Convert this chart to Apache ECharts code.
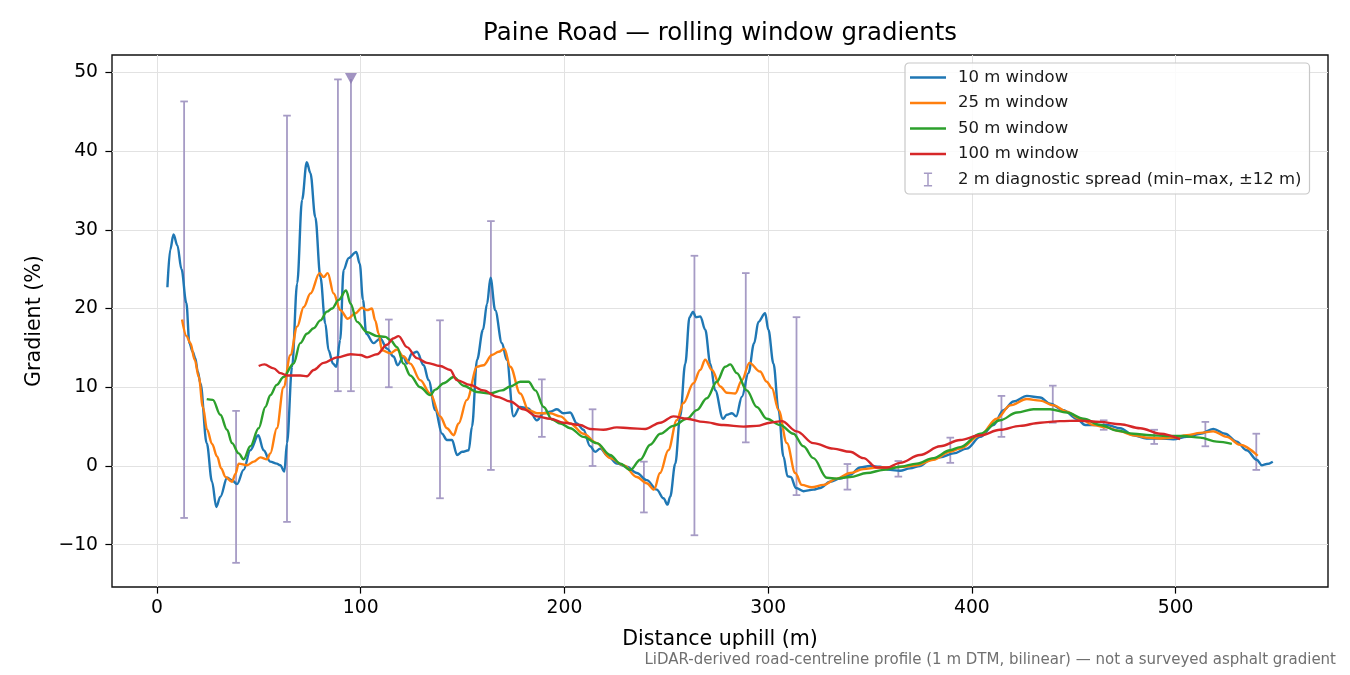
<!DOCTYPE html>
<html><head><meta charset="utf-8">
<script src="https://cdn.jsdelivr.net/npm/echarts@6/dist/echarts.min.js"></script>
<style>html,body{margin:0;padding:0;background:#fff}#c{width:1350px;height:675px}</style>
</head><body><div id="c"></div>
<script>
const xTicks = [0, 100, 200, 300, 400, 500];
const yTicks = [-10, 0, 10, 20, 30, 40, 50];
const seriesNames = ['10 m window', '25 m window', '50 m window', '100 m window'];
const spreadName = '2 m diagnostic spread (min–max, ±12 m)';

const win10 = [[5.1,22.7],[6.5,27.5],[8.1,29.4],[10,28],[12,25],[14.4,20.7],[15.9,15.6],[17.5,14.5],[18.8,13.7],[20,12],[21.3,10.5],[24.4,2.9],[27,-2],[29.1,-5.2],[31.1,-3.9],[34.4,-1.5],[36.8,-1.8],[39.3,-2.3],[42.5,-0.5],[45.8,2.0],[49.7,3.9],[52.3,2.0],[55.6,0.55],[58.8,0.3],[60.5,0.1],[62.5,-0.7],[63.8,2.9],[66.3,12.6],[68.8,23.2],[71.2,33.8],[73.5,38.6],[75.3,37.2],[77.7,31.6],[80.2,24.0],[82.6,18.1],[84.2,14.7],[86.4,13.0],[88.0,12.6],[89.9,16.0],[91.6,24.9],[94.0,26.4],[97.8,27.2],[99.5,25.7],[101.1,21.1],[102.7,16.8],[106.3,15.6],[109.6,16.2],[112.9,14.9],[116.1,13.9],[118.1,12.8],[121.0,13.9],[122.7,13.0],[125.1,14.3],[127.6,14.5],[130.9,12.8],[133.3,10.9],[136.6,7.1],[139.9,4.1],[142.3,3.3],[144.8,3.3],[147.3,1.4],[149.8,1.8],[153.0,2.0],[154.6,5.0],[157.1,13.5],[160.0,17.3],[162.0,20.6],[163.7,23.9],[166.0,19.8],[169.3,15.6],[171.7,13.5],[175.0,6.3],[178.2,7.5],[182.3,7.3],[186.5,5.8],[189.7,6.7],[193,6.9],[196.3,7.2],[199.5,6.7],[202.8,6.8],[206.1,5.4],[209.3,4.6],[212.6,2.5],[215.1,1.8],[217.5,2.2],[221.6,1.2],[225.7,0.3],[230.6,-0.1],[235.5,-0.9],[240.4,-1.8],[245.3,-3.0],[248.6,-4.1],[250.6,-4.9],[251.9,-3.9],[254.4,0.3],[256.8,6.3],[259.3,13.0],[261.4,18.9],[263.1,19.6],[264.5,18.9],[266.7,19.0],[269.1,17.3],[271.6,13.0],[274.0,9.6],[277.8,6.0],[279.7,6.5],[282.2,6.7],[284.3,6.3],[287.1,8.8],[290.3,11.8],[293.1,15.6],[295.2,18.3],[298.5,19.4],[300.1,17.3],[302.6,13.0],[305.1,7.1],[307.5,1.2],[309.5,-1.3],[311.1,-1.4],[313.7,-2.8],[317.3,-3.2],[322.2,-3.0],[325.5,-2.8],[330.4,-2.0],[335.3,-1.6],[340.2,-1.1],[345.1,-0.2],[350.0,0.0],[354.9,-0.1],[359.8,-0.5],[364.7,-0.6],[369.6,-0.3],[374.5,0.0],[379.5,0.8],[384.4,1.1],[391,1.6],[397.5,2.2],[404.1,3.7],[410.6,5.2],[415.5,7.1],[420.4,8.2],[427,8.9],[433.5,8.7],[438.4,7.9],[444.9,7.1],[451.5,6.0],[455.6,5.2],[459.7,5.2],[466.2,5.2],[472.8,4.8],[479.3,3.9],[485.8,3.5],[492.4,3.5],[498.9,3.4],[505.5,3.7],[512.0,4.1],[518.5,4.7],[524.3,4.1],[530,3.1],[534.9,2.0],[539.8,0.8],[542.3,0.1],[544.7,0.25],[547.7,0.55]];

const win25 = [[12.3,18.6],[14.5,16.5],[16.4,15.6],[18.5,13.5],[20.5,11.3],[22.5,7.5],[24.6,4.6],[27,2.8],[29.5,1.2],[31.5,-0.3],[33.6,-1.4],[36.8,-2.0],[38.5,-1.0],[40.1,0.3],[44.2,0.1],[47.5,0.55],[50.7,1.1],[54.0,0.85],[55.6,1.6],[58.8,4.8],[62.1,10.0],[65.5,14.1],[68.8,17.7],[72.0,20.2],[75.3,21.9],[79.8,24.5],[81.8,24.0],[83.8,24.5],[86.7,21.9],[90.0,19.8],[93.6,18.7],[97.4,19.4],[100.6,20.1],[103.1,19.8],[105.5,20.0],[107.1,18.5],[108.8,16.8],[110.4,14.7],[114.5,14.3],[117.8,14.8],[121.0,13.9],[124.3,13.0],[129.2,10.9],[134.1,9.2],[139.0,6.3],[142.3,4.8],[145.6,3.9],[148.0,5.4],[152.1,8.4],[157.1,12.6],[160.3,12.8],[164.4,14.1],[167.7,14.5],[170.5,14.9],[173.4,12.6],[178.3,9.2],[182.4,7.1],[186.5,6.7],[193,6.7],[198,6.3],[202.8,5.4],[209.3,4.1],[215.9,2.9],[222.4,1.0],[229,0.1],[235.5,-1.4],[240.4,-2.2],[244,-3.0],[246.9,-0.9],[251,2.0],[255.1,5.8],[258.4,8.0],[263.3,10.5],[266.6,12.2],[269.1,13.5],[272.4,12.2],[276.5,10.1],[279.7,9.3],[283.8,9.2],[287.1,10.9],[290.8,13.1],[296.0,12.0],[299.3,10.7],[301.8,9.9],[305.1,7.1],[309.2,2.9],[313.3,-0.9],[316.5,-2.4],[321.4,-2.7],[327.1,-2.4],[333.7,-1.6],[340.2,-0.9],[346.7,-0.4],[353.3,-0.2],[359.8,-0.2],[366.3,-0.1],[372.9,0.1],[381.1,0.8],[389.3,1.8],[394.2,2.2],[404.1,3.9],[412.2,6.0],[418.8,7.7],[427,8.5],[433.5,8.3],[440.1,7.7],[446.6,6.9],[453.1,6.0],[459.7,5.2],[466.2,4.9],[472.8,4.4],[479.3,3.9],[485.8,3.6],[492.4,3.5],[498.9,3.6],[505.5,3.9],[512.0,4.2],[518.5,4.4],[525.1,3.7],[531.6,2.7],[540.3,1.3]];

const win50 = [[24.4,8.5],[27.4,8.4],[31.1,6.5],[34.4,4.6],[36.8,2.9],[40.1,1.6],[42.5,0.85],[45.8,2.5],[49.9,4.8],[53.2,7.5],[55.6,9.0],[58.8,10.3],[62.1,11.3],[67.0,13.0],[70.3,15.6],[73.6,16.8],[76.9,17.5],[80.2,18.5],[83.4,19.6],[85.9,20.0],[89.2,21.1],[92.8,22.3],[95.0,20.6],[98.2,18.3],[103.1,17.0],[108,16.5],[112.1,16.4],[114.5,16.0],[117.8,15.1],[121,13.0],[124.3,11.5],[129.2,10.0],[134.1,9.0],[136.6,9.7],[140.7,10.5],[145.6,11.3],[150.5,10.2],[157.1,9.4],[163.6,9.2],[169.3,9.6],[173.4,10.1],[178.3,10.7],[182.4,10.7],[185.7,9.6],[189.8,7.5],[193.9,5.9],[198,5.4],[202.8,4.8],[209.3,3.7],[215.9,2.9],[222.4,1.4],[227.4,0.3],[232.3,-0.5],[237.2,0.8],[242.1,2.7],[247.0,4.1],[253.5,5.1],[260.1,6.0],[265,7.1],[269.9,8.6],[274.8,10.7],[278.9,12.6],[281.4,12.9],[284.6,11.8],[289.5,9.6],[294.4,7.5],[299.3,6.0],[305.9,5.2],[312.4,4.1],[317.3,2.5],[322.2,1.0],[328.8,-1.5],[333.7,-1.6],[340.2,-1.4],[348.4,-0.9],[356.6,-0.5],[364.7,-0.1],[372.9,0.3],[381.1,1.0],[389.3,2.0],[394.2,2.4],[404.1,4.1],[413.8,5.8],[422.1,6.8],[430.2,7.2],[438.4,7.2],[446.6,6.8],[454.8,6.0],[463,5.2],[471.2,4.5],[479.3,4.1],[487.5,3.9],[495.6,3.8],[503.8,3.8],[512,3.6],[520.2,3.1],[527.6,2.8]];

const win100 = [[49.9,12.7],[52.7,12.9],[57.3,12.4],[60.5,11.8],[63.8,11.5],[70.3,11.5],[73.6,11.4],[76.9,12.2],[81.8,13.1],[88.4,13.8],[95,14.2],[99.8,14.1],[103.1,13.8],[108,14.2],[112.9,15.4],[115.9,16.2],[118.6,16.5],[122.7,15.1],[127.6,13.7],[132.5,13.1],[139,12.7],[143.9,12.2],[147.2,10.9],[153.7,10.3],[160.3,9.6],[166.8,8.8],[173.4,8.2],[179.9,7.2],[186.5,6.3],[193,6.0],[199.5,5.5],[207.7,5.2],[212.6,4.7],[219.1,4.6],[225.7,4.9],[232.2,4.8],[239.6,4.7],[247,5.5],[253.5,6.3],[260.1,6.0],[268.3,5.6],[278.1,5.2],[287.9,5.0],[294.4,5.1],[300.9,5.5],[306.7,5.7],[314,4.4],[322.2,2.9],[332,2.2],[340.2,1.8],[346.8,1.0],[353.3,-0.2],[358.2,-0.2],[364.7,0.4],[374.5,1.4],[384.4,2.5],[394.2,3.3],[404.1,3.9],[413.8,4.6],[423.6,5.1],[433.5,5.5],[443.3,5.7],[453.1,5.75],[463,5.6],[472.8,5.3],[482.6,4.8],[492.4,4.1],[502.2,3.4]];

// [distance, min, max, topCapShown]
const spread = [[13.3,-6.6,46.3,1],[38.8,-12.3,7.0,1],[63.8,-7.1,44.5,1],[88.8,9.5,49.1,1],[95.2,9.5,49.15,0],[113.8,10.0,18.6,1],[138.9,-4.1,18.5,1],[163.9,-0.5,31.1,1],[188.9,3.7,11.0,1],[213.8,0.0,7.2,1],[239,-5.9,0.55,1],[263.8,-8.8,26.7,1],[289,3.0,24.5,1],[313.9,-3.7,18.9,1],[338.9,-3.0,0.25,1],[363.9,-1.35,0.63,1],[389.4,0.4,3.6,1],[414.5,3.7,8.9,1],[439.7,5.5,10.2,1],[464.7,4.6,5.8,1],[489.5,2.8,4.6,1],[514.6,2.5,5.6,1],[539.6,-0.5,4.1,1]];
const clippedMarks = [[95.2,49.2]];

const FONT = 'DejaVu Sans';
const colors = ['#1f77b4','#ff7f0e','#2ca02c','#d62728'];
const spreadColor = '#a69bc5';
const chart = echarts.init(document.getElementById('c'), null, {renderer:'canvas'});
const minus = v => String(v).replace('-', '\u2212');
const lineIcon = 'path://M0,0H36V2.4H0Z';

function lineSeries(name, data, color) {
  return {name, type:'line', data, symbol:'none', showSymbol:false, smooth:0.35, smoothMonotone:'x',
    lineStyle:{color, width:2.4}, itemStyle:{color}, z:3, animation:false};
}

chart.setOption({
  animation:false,
  grid:{left:112, top:55, width:1216, height:532, show:true, borderColor:'#111', borderWidth:1.4, backgroundColor:'transparent'},
  xAxis:{type:'value', min:-22.1, max:574.8, position:'bottom',
    axisLine:{show:false, onZero:false},
    axisTick:{show:true, length:6.6, inside:false, lineStyle:{color:'#000', width:1.2}, customValues:xTicks},
    axisLabel:{show:true, margin:12, fontFamily:FONT, fontSize:18.75, color:'#000', customValues:xTicks, formatter:minus},
    splitLine:{show:true, lineStyle:{color:'#e2e2e2', width:1}}},
  yAxis:{type:'value', min:-15.37, max:52.2, position:'left',
    axisLine:{show:false, onZero:false},
    axisTick:{show:true, length:6.6, lineStyle:{color:'#000', width:1.2}, customValues:yTicks},
    axisLabel:{show:true, margin:14, fontFamily:FONT, fontSize:18.75, color:'#000', customValues:yTicks, formatter:minus},
    splitLine:{show:true, lineStyle:{color:'#e2e2e2', width:1}}},
  legend:{orient:'vertical', left:905, top:63, itemWidth:36, itemHeight:14, itemGap:8.5,
    padding:[6,8,6,5], backgroundColor:'rgba(255,255,255,0.85)', borderColor:'#c8c8c8', borderWidth:1.2, borderRadius:4,
    textStyle:{fontFamily:FONT, fontSize:16.5, color:'#1a1a1a', lineHeight:17, padding:[0,0,0,7]},
    data:[
      {name:seriesNames[0], icon:lineIcon}, {name:seriesNames[1], icon:lineIcon},
      {name:seriesNames[2], icon:lineIcon}, {name:seriesNames[3], icon:lineIcon},
      {name:spreadName, icon:'path://M0,0H7V1.3H0Z M2.85,1.3H4.15V10.7H2.85Z M0,10.7H7V12H0Z', itemStyle:{color:spreadColor}}]},
  graphic:[
    {type:'text', x:720, y:34, style:{text:'Paine Road — rolling window gradients', font:'24.4px "DejaVu Sans"', fill:'#000', align:'center', verticalAlign:'middle'}},
    {type:'text', x:720, y:640, style:{text:'Distance uphill (m)', font:'20.6px "DejaVu Sans"', fill:'#000', align:'center', verticalAlign:'middle'}},
    {type:'text', x:35, y:321, rotation:Math.PI/2, style:{text:'Gradient (%)', font:'20.6px "DejaVu Sans"', fill:'#000', align:'center', verticalAlign:'middle'}},
    {type:'text', x:1336, y:660, style:{text:'LiDAR-derived road-centreline profile (1 m DTM, bilinear) — not a surveyed asphalt gradient', font:'15px "DejaVu Sans"', fill:'#707070', align:'right', verticalAlign:'middle'}}
  ],
  series:[
    {name:spreadName, type:'custom', data:spread, z:2, itemStyle:{color:spreadColor},
      encode:{x:0, y:[1,2]},
      renderItem:function(params, api){
        const x = api.value(0), lo = api.value(1), hi = api.value(2), cap = api.value(3);
        const p1 = api.coord([x, lo]), p2 = api.coord([x, hi]);
        const w = 3.8;
        const st = {stroke:spreadColor, lineWidth:1.8, fill:null};
        const ch = [
          {type:'line', shape:{x1:p1[0], y1:p1[1], x2:p2[0], y2:p2[1]}, style:st},
          {type:'line', shape:{x1:p1[0]-w, y1:p1[1], x2:p1[0]+w, y2:p1[1]}, style:st}
        ];
        if (cap) ch.push({type:'line', shape:{x1:p2[0]-w, y1:p2[1], x2:p2[0]+w, y2:p2[1]}, style:st});
        return {type:'group', children:ch};
      }},
    lineSeries(seriesNames[0], win10, colors[0]),
    lineSeries(seriesNames[1], win25, colors[1]),
    lineSeries(seriesNames[2], win50, colors[2]),
    lineSeries(seriesNames[3], win100, colors[3]),
    {name:'clipped', type:'scatter', data:clippedMarks, symbol:'triangle', symbolRotate:180, symbolSize:[12,11],
      itemStyle:{color:'#8a78b2'}, z:4, silent:true}
  ]
});
</script>
</body></html>
